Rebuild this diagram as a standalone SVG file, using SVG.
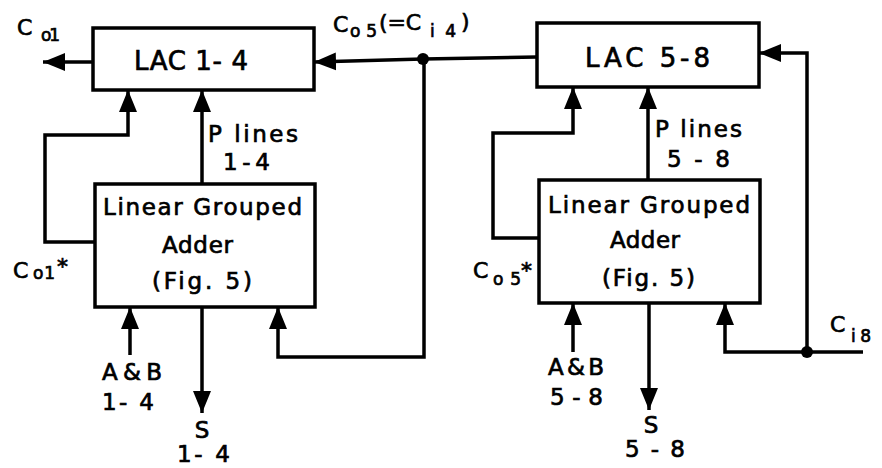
<svg xmlns="http://www.w3.org/2000/svg" width="882" height="468" viewBox="0 0 882 468">
<style>
.box{fill:#fff;stroke:#000;stroke-width:3.5}
.ln{fill:none;stroke:#000;stroke-width:3.5;stroke-linejoin:miter}
.arr{marker-end:url(#ah)}
text{font-family:"DejaVu Sans","Liberation Sans",Arial,sans-serif;fill:#000;stroke:#000;stroke-width:0.7}
.t{font-size:26px}
.m{font-size:23px}
.c{font-size:22px}
.s{font-size:17px}
</style>
<defs>
<marker id="ah" markerUnits="userSpaceOnUse" markerWidth="23" markerHeight="20" refX="22" refY="10" orient="auto">
<path d="M0,1 L22,10 L0,19 Z" fill="#000"/>
</marker>
</defs>
<g id="connectors">
<path class="ln arr" d="M93,62 H43"/>
<path class="ln" d="M537,57 L423,59"/>
<path class="ln arr" d="M423,59 L314,62"/>
<path class="ln arr" d="M424,59 V357 H278 V307"/>
<path class="ln arr" d="M95,242 H45 V135 H128 V90"/>
<path class="ln arr" d="M202,184 V90"/>
<path class="ln arr" d="M130,355 V307"/>
<path class="ln arr" d="M202,307 V413"/>
<path class="ln arr" d="M807,352 V53 H759"/>
<path class="ln arr" d="M863,352 H725 V303"/>
<path class="ln arr" d="M539,238 H493 V133 H573 V87"/>
<path class="ln arr" d="M648,180 V87"/>
<path class="ln arr" d="M573,352 V303"/>
<path class="ln arr" d="M649,303 V410"/>
<circle cx="423" cy="59" r="6" fill="#000"/>
<circle cx="807" cy="352" r="6" fill="#000"/>
</g>
<g id="lac14">
<rect class="box" x="93" y="28" width="221" height="62"/>
<text class="t" x="134" y="70" textLength="114" lengthAdjust="spacing">LAC 1- 4</text>
</g>
<g id="lac58">
<rect class="box" x="537" y="23" width="222" height="64"/>
<text class="t" x="585" y="67" textLength="125" lengthAdjust="spacing">LAC 5-8</text>
</g>
<g id="lga14">
<rect class="box" x="95" y="184" width="220" height="123"/>
<text class="m" x="103" y="215" textLength="199" lengthAdjust="spacing">Linear Grouped</text>
<text class="m" x="162" y="253" textLength="71" lengthAdjust="spacing">Adder</text>
<text class="m" x="152" y="289" textLength="100" lengthAdjust="spacing">(Fig. 5)</text>
</g>
<g id="lga58">
<rect class="box" x="539" y="180" width="221" height="123"/>
<text class="m" x="548" y="213" textLength="202" lengthAdjust="spacing">Linear Grouped</text>
<text class="m" x="610" y="248" textLength="70" lengthAdjust="spacing">Adder</text>
<text class="m" x="602" y="286" textLength="93" lengthAdjust="spacing">(Fig. 5)</text>
</g>
<g id="labels">
<text class="c" x="17" y="35">C</text>
<text class="s" x="41" y="41" textLength="19" lengthAdjust="spacing">o1</text>
<text class="c" x="333" y="32">C</text>
<text class="s" x="350" y="37" textLength="27" lengthAdjust="spacing">o5</text>
<text class="c" x="379" y="30" textLength="42" lengthAdjust="spacing">(=C</text>
<text class="s" x="430" y="37" textLength="26" lengthAdjust="spacing">i4</text>
<text class="c" x="461" y="29">)</text>
<text class="m" x="208" y="142" textLength="90" lengthAdjust="spacing">P lines</text>
<text class="m" x="223" y="170" textLength="47" lengthAdjust="spacing">1-4</text>
<text class="m" x="655" y="137" textLength="87" lengthAdjust="spacing">P lines</text>
<text class="m" x="667" y="167" textLength="63" lengthAdjust="spacing">5-8</text>
<text class="c" x="13" y="278">C</text>
<text class="s" x="33" y="279" textLength="22" lengthAdjust="spacing">o1</text>
<text class="c" x="57" y="274">*</text>
<text class="c" x="473" y="278">C</text>
<text class="s" x="493" y="285" textLength="28" lengthAdjust="spacing">o5</text>
<text class="c" x="521" y="278">*</text>
<text class="c" x="830" y="332">C</text>
<text class="s" x="851" y="342" textLength="20" lengthAdjust="spacing">i8</text>
<text class="m" x="102" y="380" textLength="60" lengthAdjust="spacing">A&amp;B</text>
<text class="m" x="102" y="410" textLength="52" lengthAdjust="spacing">1- 4</text>
<text class="m" x="202" y="438" text-anchor="middle">S</text>
<text class="m" x="177" y="462" textLength="53" lengthAdjust="spacing">1- 4</text>
<text class="m" x="548" y="375" textLength="56" lengthAdjust="spacing">A&amp;B</text>
<text class="m" x="550" y="405" textLength="53" lengthAdjust="spacing">5-8</text>
<text class="m" x="651" y="433" text-anchor="middle">S</text>
<text class="m" x="625" y="457" textLength="60" lengthAdjust="spacing">5-8</text>
</g>
</svg>
